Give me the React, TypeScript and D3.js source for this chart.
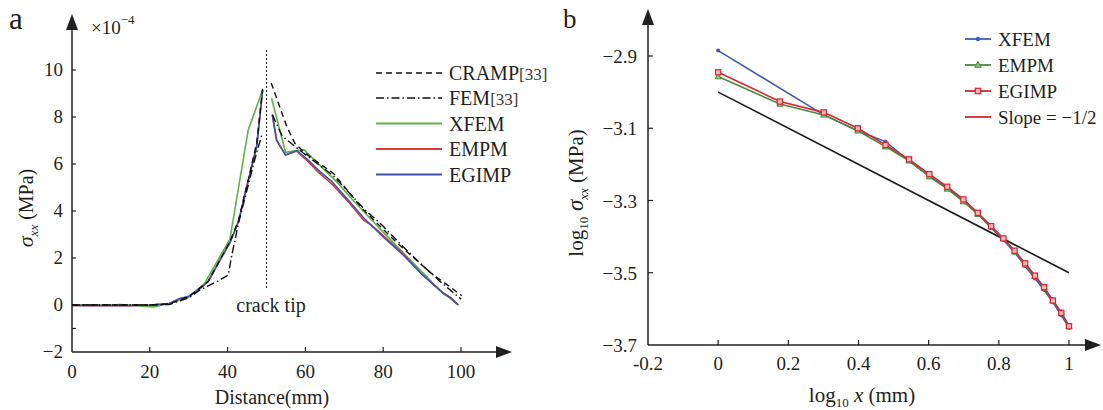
import React from "react";
import * as d3 from "d3";

// ---------- Panel a data (Distance in mm, sigma_xx x1e-4 MPa); null = break at crack tip
type P = [number, number] | null;
const cramp: P[] = [[0,0],[10,0],[20,0],[25,0.05],[30,0.35],[35,1.0],[40.6,2.7],[42.8,3.6],[45,5.1],[47.5,6.9],[49,9.2],null,[51.2,9.45],[55.2,7.6],[57.3,6.88],[60,6.45],[67.2,5.6],[74.9,4.05],[83.5,2.65],[92,1.4],[100.2,0.4]];
const fem: P[] = [[0,0],[10,0],[20,0],[25,0.02],[30,0.3],[32.9,0.64],[37.2,0.99],[40.2,1.28],[41,2.06],[42.8,3.48],[45,4.9],[47,6.2],[48.8,7.25],null,[51.5,8.1],[54,7.2],[57.3,6.75],[60,6.4],[67.2,5.5],[75,4.1],[80,3.35],[85,2.5],[90,1.7],[95,0.95],[97.5,0.6],[100,0.25]];
const xfemA: P[] = [[0,0.01],[5,0.01],[10,-0.02],[12,0.02],[15,0],[18,-0.05],[21,-0.08],[25,0.06],[30,0.35],[34,0.9],[40.6,2.8],[45.3,7.45],[49,9.15],null,[51.3,8.8],[54.9,6.5],[57.8,6.57],[59.7,6.6],[64,5.9],[68,5.25],[72,4.5],[76,3.8],[80,3.1],[85,2.25],[90,1.4],[95,0.55],[97.5,0.25],[99,0.02]];
const empmA: P[] = [[0,-0.02],[5,-0.03],[10,-0.02],[15,-0.03],[20,0],[25,0.05],[27.5,0.25],[30,0.35],[33,0.72],[35,1.0],[37.5,1.75],[40.6,2.65],[42.8,3.55],[44.9,5.0],[47.5,6.8],[49,9.15],null,[51.5,8.1],[52.6,7.0],[54.9,6.38],[57.8,6.55],[60.7,6.1],[63.3,5.65],[66.8,5.15],[71,4.4],[73.5,3.9],[75,3.6],[77,3.4],[80,2.95],[85,2.2],[90,1.3],[95.5,0.5],[97.5,0.3],[99.3,0]];
const egimpA: P[] = [[0,-0.02],[5,-0.02],[10,-0.01],[15,-0.02],[20,0],[25,0.06],[27.5,0.27],[30,0.37],[33,0.72],[35,1.0],[37.5,1.75],[40.6,2.65],[42.8,3.55],[44.9,5.04],[47.5,6.74],[49,9.15],null,[51.5,8.09],[52.6,7.02],[54.9,6.38],[57.8,6.57],[60.7,6.17],[63.3,5.74],[66.8,5.25],[71,4.47],[75,3.7],[80,2.9],[85,2.15],[90,1.3],[95.5,0.5],[97.5,0.28],[99.3,0]];
const xTicksA = [0, 20, 40, 60, 80, 100];
const yTicksA = [10, 8, 6, 4, 2, 0, -2];
const yMarksA = [10, 8, 6, 4, 2, 0, -1];
const crackTipX = 50;

// ---------- Panel b data (log10 x, log10 sigma_xx)
const logX = [0,0.176,0.301,0.398,0.477,0.544,0.602,0.653,0.699,0.740,0.778,0.813,0.845,0.875,0.903,0.929,0.954,0.978,1.0];
const xfemB: (number | null)[] = [-2.885,null,-3.063,-3.107,-3.137,-3.19,-3.232,-3.265,-3.299,-3.337,-3.376,-3.409,-3.444,-3.481,-3.516,-3.548,-3.582,-3.618,-3.652];
const empmB = [-2.957,-3.033,-3.063,-3.107,-3.151,-3.19,-3.234,-3.268,-3.303,-3.338,-3.372,-3.405,-3.442,-3.478,-3.51,-3.542,-3.576,-3.61,-3.648];
const egimpB = [-2.945,-3.026,-3.056,-3.1,-3.146,-3.186,-3.227,-3.262,-3.297,-3.334,-3.371,-3.405,-3.439,-3.474,-3.508,-3.54,-3.577,-3.611,-3.648];
const slopeX = [0, 1];
const slopeY = [-3.0, -3.5];
const xTicksB = [-0.2, 0, 0.2, 0.4, 0.6, 0.8, 1];
const xTickLabelsB = ["-0.2", "0", "0.2", "0.4", "0.6", "0.8", "1"];
const yTicksB = [-2.9, -3.1, -3.3, -3.5, -3.7];
const yTickLabelsB = ["\u22122.9", "\u22123.1", "\u22123.3", "\u22123.5", "\u22123.7"];

const FONT = "'Liberation Serif', 'Times New Roman', serif";
const TXT = "#231f20";

const C = {
  green: "#5db446",
  red: "#e0383b",
  blue: "#3b55b0",
  bBlue: "#3f5db4",
  bGreen: "#4a8a3c",
  bRed: "#d8262e",
};

export default function App() {
  // panel a scales
  const xA = d3.scaleLinear().domain([0, 100]).range([72, 461]);
  const yA = d3.scaleLinear().domain([-2, 10]).range([352, 70]);
  const lineA = d3
    .line<P>()
    .defined((d) => d !== null)
    .x((d) => xA((d as [number, number])[0]))
    .y((d) => yA((d as [number, number])[1]));

  // panel b scales
  const xB = d3.scaleLinear().domain([-0.2, 1]).range([648, 1069]);
  const yB = d3.scaleLinear().domain([-3.7, -2.9]).range([345, 56]);
  const lineB = d3
    .line<[number, number]>()
    .x((d) => xB(d[0]))
    .y((d) => yB(d[1]));
  const ptsOf = (ys: (number | null)[]) =>
    logX.map((x, i) => [x, ys[i]] as [number, number | null]).filter((d) => d[1] !== null) as [number, number][];
  const xfemPts = ptsOf(xfemB);
  const empmPts = ptsOf(empmB);
  const egimpPts = ptsOf(egimpB);
  const slopePts = slopeX.map((x, i) => [x, slopeY[i]] as [number, number]);

  const axA0 = xA(0);
  const axAy = yA(-2);
  const axB0 = xB(-0.2);
  const axBy = yB(-3.7);

  const legA = [
    { name: "CRAMP", ref: "[33]", color: "#111", dash: "6,4", w: 1.4 },
    { name: "FEM", ref: "[33]", color: "#111", dash: "8,3,1.5,3", w: 1.4 },
    { name: "XFEM", ref: "", color: C.green, dash: "", w: 1.8 },
    { name: "EMPM", ref: "", color: C.red, dash: "", w: 1.8 },
    { name: "EGIMP", ref: "", color: C.blue, dash: "", w: 1.8 },
  ];
  const legAy = [73, 98, 123.5, 149, 174.5];

  const tri = (cx: number, cy: number, s: number) =>
    `M${cx},${cy - s} L${cx + s * 0.95},${cy + s * 0.7} L${cx - s * 0.95},${cy + s * 0.7} Z`;

  const legB = [
    { name: "XFEM", color: C.bBlue, marker: "dot" },
    { name: "EMPM", color: C.bGreen, marker: "tri" },
    { name: "EGIMP", color: C.bRed, marker: "sq" },
    { name: "Slope = \u22121/2", color: C.bRed, marker: "" },
  ];
  const legBy = [39, 65, 91, 117];

  return (
    <svg width={1103} height={410} style={{ display: "block", position: "absolute", left: 0, top: 0 }} fontFamily={FONT}>
      <rect width={1103} height={410} fill="#fff" />

      {/* ================= Panel a ================= */}
      <text x={9} y={29} fontSize={31} fill={TXT}>a</text>
      {/* axes */}
      <line x1={axA0} y1={axAy} x2={axA0} y2={28} stroke={TXT} strokeWidth={1.5} />
      <path d={`M${axA0},14 L${axA0 + 6},30 L${axA0 - 6},30 Z`} fill={TXT} />
      <line x1={axA0} y1={axAy} x2={497} y2={axAy} stroke={TXT} strokeWidth={1.5} />
      <path d={`M512,${axAy} L496,${axAy - 6} L496,${axAy + 6} Z`} fill={TXT} />
      {xTicksA.map((t) => (
        <g key={"xa" + t}>
          {t !== 0 && <line x1={xA(t)} x2={xA(t)} y1={axAy} y2={axAy - 5} stroke={TXT} strokeWidth={1.2} />}
          <text x={xA(t)} y={378} fontSize={19} textAnchor="middle" fill={TXT}>{t}</text>
        </g>
      ))}
      {yMarksA.map((t) => (
        <line key={"yma" + t} x1={axA0} x2={axA0 + 4} y1={yA(t)} y2={yA(t)} stroke={TXT} strokeWidth={1.2} />
      ))}
      {yTicksA.map((t) => (
        <text key={"ya" + t} x={63} y={yA(t) + 6} fontSize={19} textAnchor="end" fill={TXT}>
          {t < 0 ? "\u2212" + Math.abs(t) : t}
        </text>
      ))}
      <text x={91} y={34} fontSize={19} fill={TXT}>
        {"\u00d710"}
        <tspan dy={-10} fontSize={13}>{"\u22124"}</tspan>
      </text>
      <text x={272} y={404} fontSize={20} textAnchor="middle" fill={TXT}>Distance(mm)</text>
      <text transform="translate(33,208) rotate(-90)" fontSize={20} textAnchor="middle" fill={TXT}>
        <tspan fontStyle="italic" fontSize={22}>{"\u03c3"}</tspan>
        <tspan fontStyle="italic" fontSize={13} dy={5}>xx</tspan>
        <tspan dy={-5}>{" (MPa)"}</tspan>
      </text>

      {/* crack tip */}
      <line x1={xA(crackTipX)} x2={xA(crackTipX)} y1={50} y2={288} stroke={TXT} strokeWidth={1} strokeDasharray="2,2" />
      <text x={271} y={312} fontSize={20} textAnchor="middle" fill={TXT}>crack tip</text>

      {/* series */}
      <path d={lineA(xfemA) || ""} fill="none" stroke={C.green} strokeWidth={1.6} />
      <path d={lineA(empmA) || ""} fill="none" stroke={C.red} strokeWidth={1.6} />
      <path d={lineA(egimpA) || ""} fill="none" stroke={C.blue} strokeWidth={1.6} />
      <path d={lineA(cramp) || ""} fill="none" stroke="#111" strokeWidth={1.4} strokeDasharray="6,4" />
      <path d={lineA(fem) || ""} fill="none" stroke="#111" strokeWidth={1.4} strokeDasharray="8,3,1.5,3" />

      {/* legend a */}
      {legA.map((l, i) => (
        <g key={"la" + l.name}>
          <line x1={376} x2={442} y1={legAy[i]} y2={legAy[i]} stroke={l.color} strokeWidth={l.w} strokeDasharray={l.dash || undefined} />
          <text x={449} y={legAy[i] + 7} fontSize={20} fill={TXT}>
            {l.name}
            {l.ref && <tspan fontSize={17} fill="#3a3a3a">{l.ref}</tspan>}
          </text>
        </g>
      ))}

      {/* ================= Panel b ================= */}
      <text x={563} y={28} fontSize={27} fill={TXT}>b</text>
      <line x1={axB0} y1={axBy} x2={axB0} y2={24} stroke={TXT} strokeWidth={1.5} />
      <path d={`M${axB0},9 L${axB0 + 6},25 L${axB0 - 6},25 Z`} fill={TXT} />
      <line x1={axB0} y1={axBy} x2={1086} y2={axBy} stroke={TXT} strokeWidth={1.5} />
      <path d={`M1101,${axBy} L1085,${axBy - 6} L1085,${axBy + 6} Z`} fill={TXT} />
      {xTicksB.map((t, i) => (
        <g key={"xb" + t}>
          {i > 0 && <line x1={xB(t)} x2={xB(t)} y1={axBy} y2={axBy - 5} stroke={TXT} strokeWidth={1.2} />}
          <text x={xB(t)} y={370} fontSize={19} textAnchor="middle" fill={TXT}>{xTickLabelsB[i]}</text>
        </g>
      ))}
      {yTicksB.map((t, i) => (
        <g key={"yb" + t}>
          {i < yTicksB.length - 1 && <line x1={axB0} x2={axB0 + 5} y1={yB(t)} y2={yB(t)} stroke={TXT} strokeWidth={1.2} />}
          <text x={637} y={yB(t) + 7} fontSize={19} textAnchor="end" fill={TXT}>{yTickLabelsB[i]}</text>
        </g>
      ))}
      <text x={862} y={402} fontSize={21} textAnchor="middle" fill={TXT}>
        log<tspan fontSize={13} dy={5}>10</tspan>
        <tspan dy={-5} fontStyle="italic">{" x"}</tspan>
        <tspan>{"  (mm)"}</tspan>
      </text>
      <text transform="translate(583,193) rotate(-90)" fontSize={21} textAnchor="middle" fill={TXT}>
        log<tspan fontSize={13} dy={5}>10</tspan>
        <tspan dy={-5} fontStyle="italic" fontSize={23}>{" \u03c3"}</tspan>
        <tspan fontStyle="italic" fontSize={13} dy={5}>xx</tspan>
        <tspan dy={-5}>{"  (MPa)"}</tspan>
      </text>

      {/* slope line */}
      <path d={lineB(slopePts) || ""} fill="none" stroke="#1a1a1a" strokeWidth={1.6} />
      {/* XFEM */}
      <path d={lineB(xfemPts) || ""} fill="none" stroke={C.bBlue} strokeWidth={1.6} />
      {xfemPts.map((d, i) => (
        <circle key={"xf" + i} cx={xB(d[0])} cy={yB(d[1])} r={2} fill={C.bBlue} />
      ))}
      {/* EMPM */}
      <path d={lineB(empmPts) || ""} fill="none" stroke={C.bGreen} strokeWidth={1.6} />
      {empmPts.map((d, i) => (
        <path key={"em" + i} d={tri(xB(d[0]), yB(d[1]), 3.2)} fill="#8fc27f" stroke={C.bGreen} strokeWidth={1} />
      ))}
      {/* EGIMP */}
      <path d={lineB(egimpPts) || ""} fill="none" stroke={C.bRed} strokeWidth={1.6} />
      {egimpPts.map((d, i) => (
        <rect key={"eg" + i} x={xB(d[0]) - 2.6} y={yB(d[1]) - 2.6} width={5.2} height={5.2} fill="#f4b6b6" stroke={C.bRed} strokeWidth={1.2} />
      ))}

      {/* legend b */}
      {legB.map((l, i) => {
        const cx = 978;
        const cy = legBy[i];
        return (
          <g key={"lb" + l.name}>
            <line x1={965} x2={991} y1={cy} y2={cy} stroke={l.color} strokeWidth={1.8} />
            {l.marker === "dot" && <circle cx={cx} cy={cy} r={2.2} fill={l.color} />}
            {l.marker === "tri" && <path d={tri(cx, cy, 3.4)} fill="#8fc27f" stroke={l.color} strokeWidth={1} />}
            {l.marker === "sq" && <rect x={cx - 2.7} y={cy - 2.7} width={5.4} height={5.4} fill="#f4b6b6" stroke={l.color} strokeWidth={1.2} />}
            <text x={998} y={cy + 7} fontSize={19} fill={TXT}>{l.name}</text>
          </g>
        );
      })}
    </svg>
  );
}
